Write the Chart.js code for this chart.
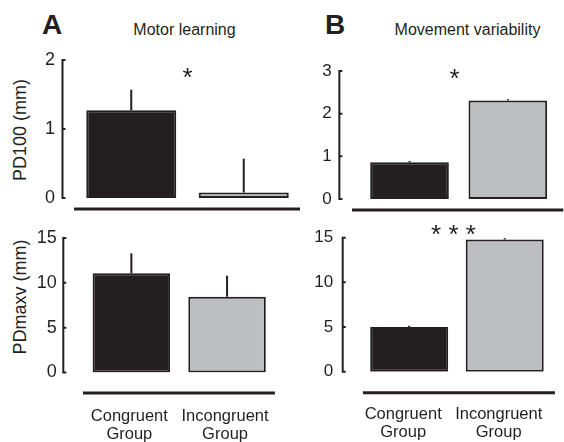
<!DOCTYPE html>
<html>
<head>
<meta charset="utf-8">
<script src="https://cdn.jsdelivr.net/npm/chart.js@4.4.1/dist/chart.umd.min.js"></script>
<style>
  html, body { margin: 0; padding: 0; background: #fff; }
  body { width: 564px; height: 442px; position: relative; overflow: hidden;
         font-family: "Liberation Sans", Arial, Helvetica, sans-serif; color: #231f20; }
  canvas { position: absolute; }
  .t { position: absolute; white-space: nowrap; line-height: 1; }
  .c { transform: translateX(-50%); }
  .ylab { position: absolute; white-space: nowrap; line-height: 1; font-size: 18px;
          transform: translate(-50%, -50%) rotate(-90deg); }
</style>
</head>
<body>
<div class="t" style="left:42px; top:11px; font-size:28px; font-weight:bold;">A</div>
<div class="t c" style="left:184.5px; top:21.5px; font-size:16px;">Motor learning</div>
<div class="t" style="left:325px; top:11px; font-size:28px; font-weight:bold;">B</div>
<div class="t c" style="left:467.5px; top:21.5px; font-size:16px;">Movement variability</div>
<div class="ylab" style="left:20px; top:130px;">PD100 (mm)</div>
<div class="ylab" style="left:20px; top:297px;">PDmaxv (mm)</div>

<canvas id="learnTop" width="300" height="178" style="left:0px; top:40px;"></canvas>
<canvas id="learnBottom" width="290" height="224" style="left:0px; top:218px;"></canvas>
<canvas id="varTop" width="264" height="179" style="left:300px; top:40px;"></canvas>
<canvas id="varBottom" width="274" height="223" style="left:290px; top:219px;"></canvas>

<script>
// Groups compared in every panel
const groups = [['Congruent', 'Group'], ['Incongruent', 'Group']];

// Motor learning: PD100 and PDmaxv (mean, upper error)
const learnPD100 = [1.27, 0.08];
const learnPD100Err = [0.30, 0.49];
const learnPDmaxv = [11.06, 8.45];
const learnPDmaxvErr = [2.23, 2.34];

// Movement variability: PD100 and PDmaxv (mean, upper error)
const varPD100 = [0.86, 2.31];
const varPD100Err = [0.03, 0.03];
const varPDmaxv = [5.0, 14.8];
const varPDmaxvErr = [0.15, 0.15];

// Tick values of each y axis
const ticksLearnPD100 = [0, 1, 2];
const ticksVarPD100 = [0, 1, 2, 3];
const ticksPDmaxv = [0, 5, 10, 15];

const ink = '#231f20';
const darkFill = '#231f20';
const greyFill = '#bcbec0';
const FONT = '"Liberation Sans", Arial, Helvetica, sans-serif';

// Detached y axis with inward ticks, group underline, upper error bars, significance marks
const panelDecor = {
  id: 'panelDecor',
  afterDatasetsDraw(chart, args, opts) {
    const { ctx, chartArea: ca, scales: { y } } = chart;
    ctx.save();
    ctx.strokeStyle = ink;
    ctx.fillStyle = ink;
    ctx.lineCap = 'butt';

    // y axis
    const ax = ca.left - opts.axisGap;
    ctx.lineWidth = 2;
    ctx.beginPath();
    ctx.moveTo(ax, y.getPixelForValue(y.max) - 1);
    ctx.lineTo(ax, y.getPixelForValue(y.min) + 1);
    y.ticks.forEach(t => {
      const py = y.getPixelForValue(t.value);
      ctx.moveTo(ax, py);
      ctx.lineTo(ax + 3, py);
    });
    ctx.stroke();

    // group underline
    const by = y.getPixelForValue(0) + opts.baseGap;
    ctx.lineWidth = 3;
    ctx.beginPath();
    ctx.moveTo(ca.left - opts.baseExtend[0], by);
    ctx.lineTo(ca.right + opts.baseExtend[1], by);
    ctx.stroke();

    // upper error bars
    const ds = chart.data.datasets[0];
    ctx.lineWidth = 2;
    chart.getDatasetMeta(0).data.forEach((bar, i) => {
      const top = y.getPixelForValue(ds.data[i] + ds.errors[i]);
      ctx.beginPath();
      ctx.moveTo(bar.x, bar.y);
      ctx.lineTo(bar.x, top);
      ctx.stroke();
    });

    // significance
    if (opts.sig) {
      const size = opts.sigSize;
      ctx.font = size + 'px ' + FONT;
      ctx.textAlign = 'center';
      ctx.textBaseline = 'alphabetic';
      ctx.fillText(opts.sig, (ca.left + ca.right) / 2 + opts.sigShift,
                   y.getPixelForValue(opts.sigAt) + 0.57 * size);
    }
    ctx.restore();
  }
};

function makePanel(id, p) {
  const tickVals = p.ticks;
  return new Chart(document.getElementById(id), {
    type: 'bar',
    data: {
      labels: groups,
      datasets: [{
        data: p.values,
        errors: p.errors,
        backgroundColor: [darkFill, greyFill],
        borderColor: ink,
        borderWidth: 2,
        borderSkipped: false,
        barPercentage: 1,
        categoryPercentage: p.catPct
      }]
    },
    options: {
      responsive: false,
      animation: false,
      events: [],
      layout: { padding: { top: p.padTop, right: p.padRight, bottom: p.padBottom, left: 0 } },
      plugins: {
        legend: { display: false },
        tooltip: { enabled: false },
        panelDecor: {
          axisGap: p.axisGap, baseGap: p.baseGap, baseExtend: p.baseExtend,
          sig: p.sig, sigAt: p.sigAt, sigSize: p.sigSize || 26, sigShift: p.sigShift || 0
        }
      },
      scales: {
        x: {
          display: p.showGroups,
          grid: { display: false, drawTicks: false },
          border: { display: false },
          ticks: {
            color: ink, padding: p.xPad, maxRotation: 0, minRotation: 0, autoSkip: false,
            labelOffset: p.labelShift || 0,
            font: { family: FONT, size: 16.5, lineHeight: '18.5px' }
          },
          afterFit: s => {
            s.height = p.xHeight;
            s.paddingLeft = 0; s.paddingRight = 0; s.paddingTop = 0; s.paddingBottom = 0;
          }
        },
        y: {
          min: tickVals[0],
          max: tickVals[tickVals.length - 1],
          grid: { display: false, drawTicks: false },
          border: { display: false },
          ticks: {
            stepSize: tickVals[1] - tickVals[0],
            color: ink,
            padding: p.yPad,
            font: { family: FONT, size: p.tickSize }
          },
          afterFit: s => {
            s.width = p.yWidth;
            s.paddingLeft = 0; s.paddingRight = 0; s.paddingTop = 0; s.paddingBottom = 0;
          }
        }
      }
    },
    plugins: [panelDecor]
  });
}

makePanel('learnTop', {
  values: learnPD100, errors: learnPD100Err, ticks: ticksLearnPD100,
  catPct: 0.8, yWidth: 75, padTop: 20, padRight: 0, padBottom: 20,
  showGroups: false, xHeight: 0, xPad: 0, yPad: 20, tickSize: 18,
  axisGap: 12.5, baseGap: 11, baseExtend: [1, 0],
  sig: '*', sigAt: 1.84
});

makePanel('learnBottom', {
  values: learnPDmaxv, errors: learnPDmaxvErr, ticks: ticksPDmaxv,
  catPct: 0.81, yWidth: 83.5, padTop: 20, padRight: 15.1, padBottom: 0,
  showGroups: true, xHeight: 69.5, xPad: 34.5, yPad: 26.8, tickSize: 18,
  axisGap: 20.2, baseGap: 20.5, baseExtend: [0.5, 0], labelShift: -2,
  sig: ''
});

makePanel('varTop', {
  values: varPD100, errors: varPD100Err, ticks: ticksVarPD100,
  catPct: 0.8, yWidth: 60.35, padTop: 31, padRight: 7, padBottom: 20,
  showGroups: false, xHeight: 0, xPad: 0, yPad: 28.6, tickSize: 17,
  axisGap: 21, baseGap: 11, baseExtend: [8.35, 6.3],
  sig: '*', sigAt: 2.98, sigShift: -4
});

makePanel('varBottom', {
  values: varPDmaxv, errors: varPDmaxvErr, ticks: ticksPDmaxv,
  catPct: 0.817, yWidth: 71.45, padTop: 18.7, padRight: 11.55, padBottom: 0,
  showGroups: true, xHeight: 70.3, xPad: 33.3, yPad: 28.2, tickSize: 17,
  axisGap: 18.75, baseGap: 21, baseExtend: [-1.5, 2.5], labelShift: -6,
  sig: '* * *', sigAt: 16.1, sigShift: -3.5
});
</script>
</body>
</html>
